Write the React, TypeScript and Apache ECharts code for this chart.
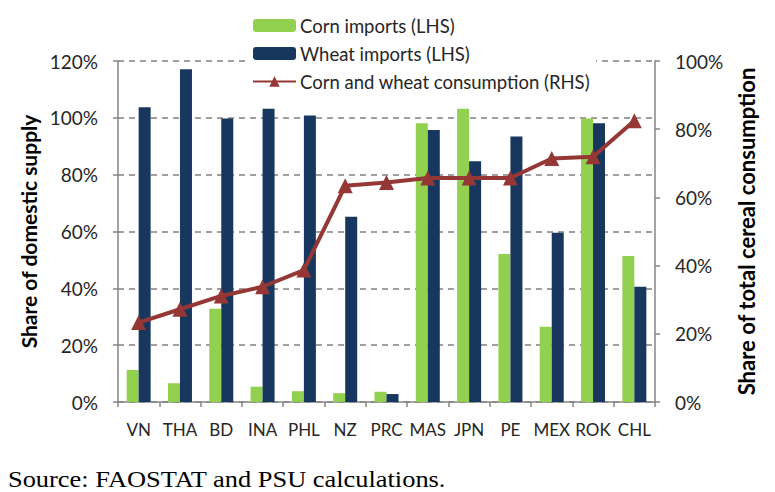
import React, { useEffect, useRef } from "react";
import * as echarts from "echarts";

const categories = ["VN", "THA", "BD", "INA", "PHL", "NZ", "PRC", "MAS", "JPN", "PE", "MEX", "ROK", "CHL"];
const cornImports = [11.3, 6.6, 32.8, 5.4, 3.8, 3.1, 3.6, 98.1, 103.2, 52.1, 26.5, 99.8, 51.4];
const wheatImports = [103.7, 117.1, 99.8, 103.2, 100.8, 65.2, 2.8, 95.7, 84.7, 93.4, 59.6, 98.1, 40.6];
const consumption = [23.3, 27.2, 31.1, 33.8, 38.7, 63.4, 64.4, 65.7, 65.7, 65.7, 71.4, 71.9, 82.5];
const leftTicks = [0, 20, 40, 60, 80, 100, 120];
const rightTicks = [0, 20, 40, 60, 80, 100];
const seriesNames = ["Corn imports (LHS)", "Wheat imports (LHS)", "Corn and wheat consumption (RHS)"];

const FONT = "Lato, 'Noto Sans', sans-serif";

export default function App() {
  const ref = useRef<HTMLDivElement>(null);
  useEffect(() => {
    if (!ref.current) return;
    const chart = echarts.init(ref.current, null, { renderer: "svg" });
    chart.setOption({
      animation: false,
      backgroundColor: "#ffffff",
      textStyle: { fontFamily: FONT },
      grid: { left: 118, right: 120, top: 61, bottom: 90, containLabel: false },
      legend: {
        orient: "vertical",
        left: 245,
        top: 10,
        padding: [6, 6, 6, 7],
        backgroundColor: "#ffffff",
        itemWidth: 43,
        itemHeight: 13,
        itemGap: 9,
        textStyle: { fontFamily: FONT, fontSize: 18.5, color: "#262626", padding: [0, 0, 0, -1] },
        data: seriesNames,
      },
      xAxis: {
        type: "category",
        data: categories,
        axisLine: { lineStyle: { color: "#868686", width: 1.5 } },
        axisTick: { show: true, length: 5, lineStyle: { color: "#868686", width: 1.5 } },
        axisLabel: { fontFamily: FONT, fontSize: 17, color: "#262626", margin: 19, interval: 0 },
      },
      yAxis: [
        {
          type: "value",
          min: leftTicks[0],
          max: leftTicks[leftTicks.length - 1],
          interval: 20,
          name: "Share of domestic supply",
          nameLocation: "middle",
          nameGap: 74,
          nameRotate: 90,
          nameTextStyle: { fontFamily: FONT, fontSize: 21, fontWeight: "bold", color: "#000" },
          axisLine: { show: true, lineStyle: { color: "#868686", width: 1.5 } },
          axisTick: { show: true, length: 5, lineStyle: { color: "#868686", width: 1.5 } },
          axisLabel: { fontFamily: FONT, fontSize: 19, color: "#262626", margin: 20, formatter: "{value}%" },
          splitLine: { show: true, lineStyle: { color: "#808080", type: [6, 5], width: 1.5 } },
        },
        {
          type: "value",
          min: rightTicks[0],
          max: rightTicks[rightTicks.length - 1],
          interval: 20,
          position: "right",
          name: "Share of total cereal consumption",
          nameLocation: "middle",
          nameGap: 80,
          nameRotate: 90,
          nameTextStyle: { fontFamily: FONT, fontSize: 22, fontWeight: "bold", color: "#000" },
          axisLine: { show: true, lineStyle: { color: "#868686", width: 1.5 } },
          axisTick: { show: true, length: 5, lineStyle: { color: "#868686", width: 1.5 } },
          axisLabel: { fontFamily: FONT, fontSize: 19, color: "#262626", margin: 20, formatter: "{value}%" },
          splitLine: { show: false },
        },
      ],
      series: [
        {
          name: seriesNames[0],
          type: "bar",
          yAxisIndex: 0,
          data: cornImports,
          barWidth: 12,
          barGap: "0%",
          itemStyle: { color: "#92D050" },
        },
        {
          name: seriesNames[1],
          type: "bar",
          yAxisIndex: 0,
          data: wheatImports,
          barWidth: 12,
          barGap: "0%",
          itemStyle: { color: "#17375E" },
        },
        {
          name: seriesNames[2],
          type: "line",
          yAxisIndex: 1,
          data: consumption,
          symbol: "triangle",
          symbolSize: 15,
          z: 5,
          lineStyle: { color: "#953735", width: 4 },
          itemStyle: { color: "#953735" },
        },
      ],
      graphic: [
        {
          type: "text",
          x: 8,
          y: 467,
          scaleX: 1.1,
          style: {
            text: "Source: FAOSTAT and PSU calculations.",
            font: "24px 'Liberation Serif', 'Times New Roman', serif",
            fill: "#000",
          },
        },
      ],
    });
    return () => chart.dispose();
  }, []);
  return <div ref={ref} style={{ position: "absolute", left: 0, top: 0, width: 775, height: 492 }} />;
}
